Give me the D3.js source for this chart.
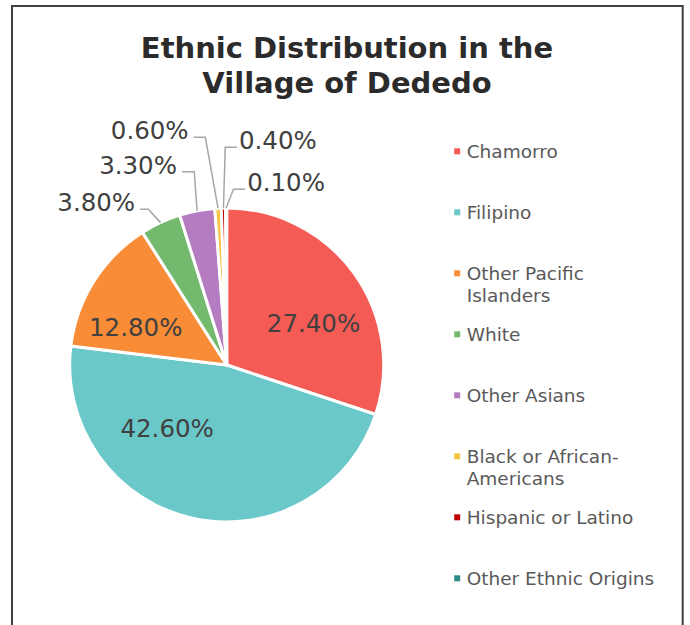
<!DOCTYPE html>
<html>
<head>
<meta charset="utf-8">
<script src="https://cdn.jsdelivr.net/npm/d3@7"></script>
<style>
  html, body { margin: 0; padding: 0; background: #fff; }
  svg { display: block; font-family: "DejaVu Sans", Verdana, sans-serif; }
</style>
</head>
<body>
<svg id="chart" width="690" height="625"></svg>
<script>
// Ethnic groups in the village of Dededo and their shares (percent)
const categories = [
  "Chamorro", "Filipino", "Other Pacific Islanders", "White",
  "Other Asians", "Black or African-Americans", "Hispanic or Latino",
  "Other Ethnic Origins"
];
const shares = [27.4, 42.6, 12.8, 3.8, 3.3, 0.6, 0.4, 0.1];
const sliceColors = [
  "#f55b55", "#6bc8c9", "#f98c37", "#73ba6e",
  "#b57cc2", "#f6c343", "#c00000", "#2e8a8a"
];
const titleLines = ["Ethnic Distribution in the", "Village of Dededo"];

// Inside labels: polar position (degrees clockwise from top, radius in px)
const insideLabels = [
  { i: 0, angle: 64.0, r: 96.6 },
  { i: 1, angle: 223.4, r: 86.7 },
  { i: 2, angle: 292.7, r: 98.6 }
];
// Outside labels: leader elbow offset from the slice edge, then a short horizontal run
const outsideLabels = [
  { i: 3, elbow: [-12.1, -13.3], run: -8.3 },
  { i: 4, elbow: [-2.8, -39.1], run: -12.3 },
  { i: 5, elbow: [-12.7, -70.9], run: -11.7 },
  { i: 6, elbow: [1.8, -60.7], run: 11.7 },
  { i: 7, elbow: [7.3, -18.7], run: 11.7 }
];

const svg = d3.select("#chart");
const fmt = v => v.toFixed(2) + "%";

// Chart frame
svg.append("path")
  .attr("d", "M12,626 L12,6 L682.7,6 L682.7,626")
  .attr("fill", "none")
  .attr("stroke", "#404040")
  .attr("stroke-width", 2);

// Title
const title = svg.append("text")
  .attr("text-anchor", "middle")
  .attr("font-weight", "bold")
  .attr("font-size", 29)
  .attr("fill", "#2b2b2b");
titleLines.forEach((t, k) => {
  title.append("tspan").attr("x", 347).attr("y", 58 + k * 35).text(t);
});

// Pie
const cx = 226.7, cy = 365, radius = 157;
const pie = d3.pie().sort(null).value(d => d).startAngle(0).endAngle(2 * Math.PI);
const arcs = pie(shares);
const arc = d3.arc().innerRadius(0).outerRadius(radius);
const g = svg.append("g").attr("transform", `translate(${cx},${cy})`);

g.selectAll("path.slice")
  .data(arcs)
  .join("path")
  .attr("class", "slice")
  .attr("d", arc)
  .attr("fill", (d, i) => sliceColors[i])
  .attr("stroke", "#fff")
  .attr("stroke-width", 3)
  .attr("stroke-linejoin", "round");

const polar = (deg, r) => {
  const a = deg * Math.PI / 180;
  return [Math.sin(a) * r, -Math.cos(a) * r];
};

// Values printed on the large slices
g.selectAll("text.inside")
  .data(insideLabels)
  .join("text")
  .attr("class", "inside")
  .attr("text-anchor", "middle")
  .attr("font-size", 24.5)
  .attr("fill", "#404040")
  .attr("x", d => polar(d.angle, d.r)[0])
  .attr("y", d => polar(d.angle, d.r)[1] + 9)
  .text(d => fmt(shares[d.i]));

// Leader lines and labels for the thin slices
outsideLabels.forEach(d => {
  const a = arcs[d.i];
  const mid = (a.startAngle + a.endAngle) / 2;
  const p0 = [Math.sin(mid) * radius, -Math.cos(mid) * radius];
  const p1 = [p0[0] + d.elbow[0], p0[1] + d.elbow[1]];
  const p2 = [p1[0] + d.run, p1[1]];
  g.append("polyline")
    .attr("points", [p0, p1, p2].map(p => p.join(",")).join(" "))
    .attr("fill", "none")
    .attr("stroke", "#a6a6a6")
    .attr("stroke-width", 1.5);
  const left = d.run < 0;
  g.append("text")
    .attr("text-anchor", left ? "end" : "start")
    .attr("font-size", 24.5)
    .attr("fill", "#404040")
    .attr("x", p2[0] + (left ? -5 : 2))
    .attr("y", p2[1] + 2)
    .text(fmt(shares[d.i]));
});

// Legend
const legendY = d3.scalePoint().domain(categories).range([151.3, 578.3]);
const legendFont = 18.5, maxLegendWidth = 195;

function wrapLabel(textSel, label) {
  // Break on spaces and after hyphens when the line gets too wide
  const words = label.split(/(?<=-)|\s+/).filter(Boolean);
  const seps = [];
  let rest = label;
  words.forEach(w => {
    rest = rest.slice(rest.indexOf(w) + w.length);
    seps.push(rest.startsWith(" ") ? " " : "");
  });
  const lines = [];
  let cur = "";
  words.forEach((w, k) => {
    const trial = cur + w;
    textSel.text(trial);
    if (cur && textSel.node().getComputedTextLength() > maxLegendWidth) {
      lines.push(cur.trimEnd());
      cur = w + seps[k];
    } else {
      cur = trial + seps[k];
    }
  });
  lines.push(cur.trimEnd());
  textSel.text(null);
  return lines;
}

const legend = svg.append("g");
categories.forEach((c, i) => {
  const y = legendY(c);
  legend.append("rect")
    .attr("x", 454.2).attr("y", y - 3)
    .attr("width", 6).attr("height", 6)
    .attr("fill", sliceColors[i]);
  const t = legend.append("text")
    .attr("font-size", legendFont)
    .attr("fill", "#595959");
  const lines = wrapLabel(t, c);
  lines.forEach((ln, k) => {
    t.append("tspan").attr("x", 466.7).attr("y", y + 6.6 + k * 22.5).text(ln);
  });
});
</script>
</body>
</html>
